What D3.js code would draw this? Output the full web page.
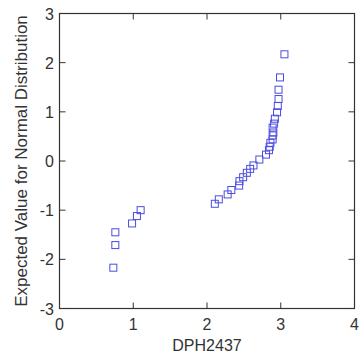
<!DOCTYPE html>
<html lang="en">
<head>
<meta charset="utf-8">
<title>Normal probability plot</title>
<script src="https://d3js.org/d3.v7.min.js"></script>
<style>
  body { margin: 0; background: #fff; }
  text { font-family: "Liberation Sans", Arial, sans-serif; fill: #333; }
</style>
</head>
<body>
<svg id="chart" width="359" height="360"></svg>
<script>
// observed DPH2437 values and their expected normal scores
var dphValues = [0.73, 0.757, 0.757, 0.984, 1.05, 1.10, 2.106, 2.16, 2.28, 2.33, 2.436, 2.44,
  2.49, 2.54, 2.585, 2.63, 2.71, 2.80, 2.84, 2.85, 2.86, 2.89, 2.89, 2.90, 2.89, 2.91,
  2.92, 2.95, 2.96, 2.97, 2.97, 2.99, 3.05];
var normalScores = [-2.17, -1.71, -1.45, -1.27, -1.12, -1.0, -0.87, -0.78, -0.68, -0.59, -0.50, -0.41,
  -0.33, -0.24, -0.16, -0.09, 0.03, 0.13, 0.22, 0.29, 0.37, 0.44, 0.52, 0.58, 0.68, 0.76,
  0.86, 0.99, 1.12, 1.26, 1.45, 1.70, 2.17];
var xTicks = [0, 1, 2, 3, 4];
var yTicks = [-3, -2, -1, 0, 1, 2, 3];

var svg = d3.select("#chart");
var mLeft = 59.5, mRight = 354.5, mTop = 13.5, mBottom = 308.5;

var x = d3.scaleLinear().domain([0, 4]).range([mLeft, mRight]);
var y = d3.scaleLinear().domain([-3, 3]).range([mBottom, mTop]);

var tl = 6;

// frame
svg.append("rect")
  .attr("x", mLeft).attr("y", mTop)
  .attr("width", mRight - mLeft).attr("height", mBottom - mTop)
  .attr("fill", "none").attr("stroke", "#333").attr("stroke-width", 1.2);

// inward ticks on all sides
xTicks.forEach(function(t) {
  svg.append("line").attr("x1", x(t)).attr("x2", x(t)).attr("y1", mBottom).attr("y2", mBottom - tl)
    .attr("stroke", "#333");
  svg.append("line").attr("x1", x(t)).attr("x2", x(t)).attr("y1", mTop).attr("y2", mTop + tl)
    .attr("stroke", "#333");
  svg.append("text").attr("x", x(t)).attr("y", 330)
    .attr("text-anchor", "middle").style("font-size", "16px").text(t);
});
yTicks.forEach(function(t) {
  svg.append("line").attr("x1", mLeft).attr("x2", mLeft + tl).attr("y1", y(t)).attr("y2", y(t))
    .attr("stroke", "#333");
  svg.append("line").attr("x1", mRight).attr("x2", mRight - tl).attr("y1", y(t)).attr("y2", y(t))
    .attr("stroke", "#333");
  svg.append("text").attr("x", 54).attr("y", y(t) + 6)
    .attr("text-anchor", "end").style("font-size", "16px").text(t);
});

// axis titles
svg.append("text").attr("x", (mLeft + mRight) / 2).attr("y", 351)
  .attr("text-anchor", "middle").style("font-size", "16px").text("DPH2437");
svg.append("text")
  .attr("transform", "translate(27," + ((mTop + mBottom) / 2) + ") rotate(-90)")
  .attr("text-anchor", "middle").style("font-size", "17px")
  .text("Expected Value for Normal Distribution");

// markers
var s = 7;
svg.selectAll("rect.pt")
  .data(d3.range(dphValues.length))
  .enter().append("rect")
  .attr("class", "pt")
  .attr("x", function(i) { return x(dphValues[i]) - s / 2; })
  .attr("y", function(i) { return y(normalScores[i]) - s / 2; })
  .attr("width", s).attr("height", s)
  .attr("fill", "none")
  .attr("stroke", "#4b4be0")
  .attr("stroke-width", 1);
</script>
</body>
</html>
